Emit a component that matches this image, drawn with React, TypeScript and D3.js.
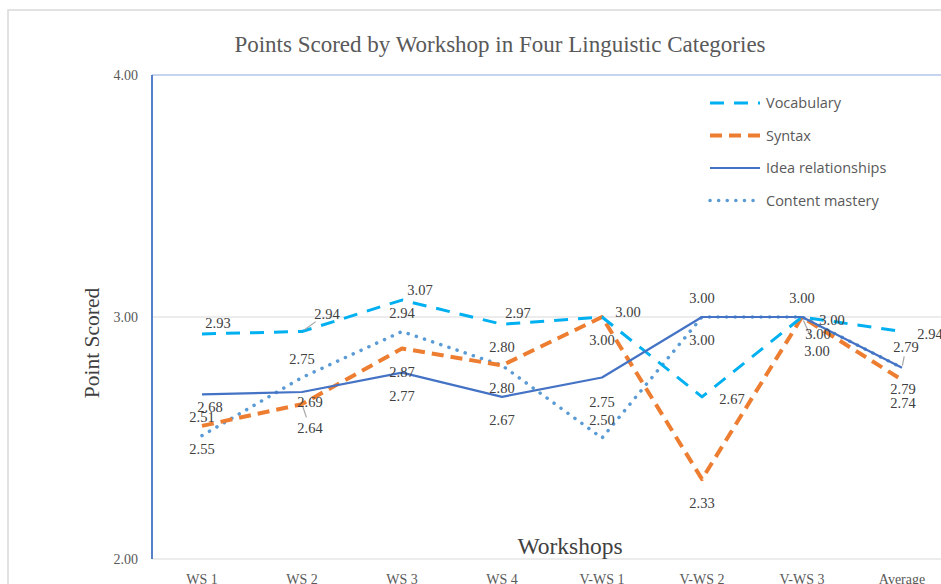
import React from 'react';
import * as d3 from 'd3';

// categories and series values
const workshops = ['WS 1', 'WS 2', 'WS 3', 'WS 4', 'V-WS 1', 'V-WS 2', 'V-WS 3', 'Average'];
const vocabulary = [2.93, 2.94, 3.07, 2.97, 3.0, 2.67, 3.0, 2.94];
const syntax = [2.55, 2.64, 2.87, 2.8, 3.0, 2.33, 3.0, 2.74];
const ideaRelationships = [2.68, 2.69, 2.77, 2.67, 2.75, 3.0, 3.0, 2.79];
const contentMastery = [2.51, 2.75, 2.94, 2.8, 2.5, 3.0, 3.0, 2.79];
const yTicks = [2, 3, 4];

// data label nudges (dx, dy, leader line) as Excel placed them
const vocabNudge: [number, number, boolean][] = [
  [16, -11, false], [25, -18, true], [18, -10, false], [16, -11, false],
  [26, -5, false], [30, 2, false], [30, 3, false], [28, 2, false],
];
const syntaxNudge: [number, number, boolean][] = [
  [0, 23, false], [8, 24, true], [0, 24, false], [0, -18, false],
  [0, 23, false], [0, 24, false], [15, 34, true], [1, 23, false],
];
const ideaNudge: [number, number, boolean][] = [
  [8, 13, false], [8, 10, false], [0, 23, false], [0, 23, false],
  [0, 24, false], [0, -19, false], [0, -19, false], [4, -21, true],
];
const contentNudge: [number, number, boolean][] = [
  [0, -19, false], [0, -19, false], [0, -19, false], [0, 23, false],
  [0, -18, false], [0, 23, false], [16, 17, false], [1, 21, false],
];

interface Series {
  name: string;
  values: number[];
  color: string;
  width: number;
  dash: string;
  cap: 'butt' | 'round';
  nudge: [number, number, boolean][];
}

const series: Series[] = [
  { name: 'Vocabulary', values: vocabulary, color: '#00B0F0', width: 3, dash: '14 10', cap: 'butt', nudge: vocabNudge },
  { name: 'Syntax', values: syntax, color: '#ED7D31', width: 4, dash: '12 7', cap: 'butt', nudge: syntaxNudge },
  { name: 'Idea relationships', values: ideaRelationships, color: '#4472C4', width: 2.2, dash: '', cap: 'butt', nudge: ideaNudge },
  { name: 'Content mastery', values: contentMastery, color: '#5B9BD5', width: 3.5, dash: '0.1 8.5', cap: 'round', nudge: contentNudge },
];

const W = 941;
const H = 584;
const serif = '"Liberation Serif", "Times New Roman", serif';
const sans = '"Open Sans", "Noto Sans", sans-serif';

const App = () => {
  const x = d3.scaleBand<string>().domain(workshops).range([152, 952]);
  const y = d3.scaleLinear().domain([2, 4]).range([559, 75]);
  const cx = (i: number) => (x(workshops[i]) as number) + x.bandwidth() / 2;

  const line = d3.line<number>()
    .x((_, i) => cx(i))
    .y(d => y(d));

  // draw order: content first so the solid line sits on top like in Excel
  const drawOrder = [series[3], series[1], series[0], series[2]];

  return (
    <svg width={W} height={H} style={{ position: 'absolute', left: 0, top: 0, background: '#fff' }}>
      {/* chart frame */}
      <rect x={8} y={10} width={W + 20} height={H + 20} fill="#fff" stroke="#d9d9d9" strokeWidth={1.5} />

      <text x={500} y={52} textAnchor="middle" fontFamily={serif} fontSize={23} fill="#595959">
        Points Scored by Workshop in Four Linguistic Categories
      </text>

      {/* gridlines */}
      {yTicks.map(t => (
        <line key={t} x1={152} x2={W} y1={y(t)} y2={y(t)}
          stroke={t === 4 ? '#8FAADC' : '#d9d9d9'} strokeWidth={1.2} />
      ))}
      {yTicks.map(t => (
        <text key={'t' + t} x={138} y={y(t) + 5} textAnchor="end" fontFamily={serif} fontSize={14} fill="#595959">
          {t.toFixed(2)}
        </text>
      ))}
      <line x1={152} x2={152} y1={y(4)} y2={y(2)} stroke="#4472C4" strokeWidth={1.8} />

      {/* axis titles */}
      <text transform={`translate(99, ${343}) rotate(-90)`} textAnchor="middle" fontFamily={serif} fontSize={21.5} fill="#404040">
        Point Scored
      </text>
      <text x={570} y={554} textAnchor="middle" fontFamily={serif} fontSize={23.5} fill="#404040">
        Workshops
      </text>

      {workshops.map((w, i) => (
        <text key={w} x={cx(i)} y={584} textAnchor="middle" fontFamily={serif} fontSize={14} fill="#595959">
          {w}
        </text>
      ))}

      {/* series lines */}
      {drawOrder.map(s => (
        <path key={s.name} d={line(s.values) || ''} fill="none" stroke={s.color}
          strokeWidth={s.width} strokeDasharray={s.dash || undefined} strokeLinecap={s.cap} strokeLinejoin="round" />
      ))}

      {/* data labels */}
      {series.map(s => (
        <g key={'lbl' + s.name}>
          {s.values.map((v, i) => {
            const [dx, dy, leader] = s.nudge[i];
            const px = cx(i);
            const py = y(v);
            return (
              <g key={i}>
                {leader && (
                  <line x1={px + dx * 0.1} y1={py + dy * 0.1} x2={px + dx * 0.55} y2={py + dy * 0.55}
                    stroke="#a6a6a6" strokeWidth={1.2} />
                )}
                <text x={px + dx} y={py + dy + 5} textAnchor="middle" fontFamily={serif} fontSize={14.5} fill="#404040">
                  {v.toFixed(2)}
                </text>
              </g>
            );
          })}
        </g>
      ))}

      {/* legend */}
      {series.map((s, i) => {
        const ly = 103 + i * 32.5;
        return (
          <g key={'leg' + s.name}>
            <line x1={710} x2={760} y1={ly} y2={ly} stroke={s.color} strokeWidth={s.width}
              strokeDasharray={s.dash || undefined} strokeLinecap={s.cap} />
            <text x={766} y={ly + 5} fontFamily={sans} fontSize={14.5} fill="#595959">{s.name}</text>
          </g>
        );
      })}
    </svg>
  );
};

export default App;
